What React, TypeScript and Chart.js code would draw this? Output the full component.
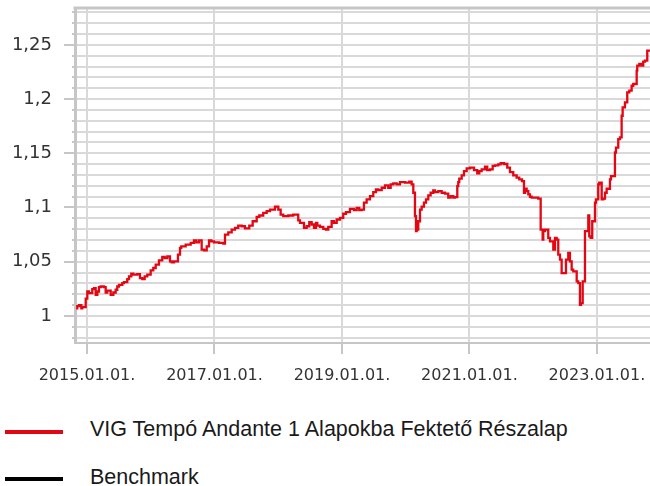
import React, { useEffect, useRef } from "react";
import { Chart, registerables } from "chart.js";

Chart.register(...registerables);

// Fund series: time as decimal years, values as unit price
const fundYears: number[] = [
  2014.848, 2014.875, 2014.911, 2014.926, 2014.98, 2015.005, 2015.031, 2015.083, 2015.11, 2015.136,
  2015.162, 2015.188, 2015.215, 2015.267, 2015.293, 2015.318, 2015.372, 2015.413, 2015.45, 2015.475,
  2015.502, 2015.554, 2015.58, 2015.632, 2015.659, 2015.695, 2015.726, 2015.789, 2015.831, 2015.867,
  2015.905, 2015.946, 2015.999, 2016.04, 2016.078, 2016.129, 2016.181, 2016.219, 2016.26, 2016.302,
  2016.329, 2016.365, 2016.427, 2016.459, 2016.479, 2016.548, 2016.627, 2016.678, 2016.715, 2016.757,
  2016.799, 2016.835, 2016.878, 2016.914, 2016.95, 2016.992, 2017.071, 2017.138, 2017.165, 2017.216,
  2017.27, 2017.322, 2017.373, 2017.427, 2017.478, 2017.546, 2017.599, 2017.662, 2017.703, 2017.765,
  2017.819, 2017.871, 2017.949, 2018.001, 2018.038, 2018.079, 2018.158, 2018.236, 2018.314, 2018.341,
  2018.404, 2018.446, 2018.487, 2018.525, 2018.561, 2018.592, 2018.613, 2018.655, 2018.707, 2018.749,
  2018.785, 2018.838, 2018.875, 2018.917, 2018.969, 2019.02, 2019.063, 2019.125, 2019.188, 2019.231,
  2019.271, 2019.309, 2019.345, 2019.387, 2019.439, 2019.491, 2019.533, 2019.569, 2019.623, 2019.675,
  2019.726, 2019.764, 2019.805, 2019.858, 2019.91, 2019.988, 2020.056, 2020.093, 2020.119, 2020.145,
  2020.161, 2020.172, 2020.197, 2020.224, 2020.25, 2020.286, 2020.318, 2020.354, 2020.391, 2020.432,
  2020.459, 2020.511, 2020.564, 2020.616, 2020.667, 2020.705, 2020.746, 2020.773, 2020.809, 2020.824,
  2020.84, 2020.878, 2020.914, 2020.956, 2021.008, 2021.071, 2021.122, 2021.154, 2021.191, 2021.243,
  2021.279, 2021.322, 2021.364, 2021.4, 2021.452, 2021.489, 2021.541, 2021.593, 2021.635, 2021.687,
  2021.74, 2021.781, 2021.824, 2021.855, 2021.871, 2021.897, 2021.923, 2021.949, 2021.976, 2022.027,
  2022.079, 2022.117, 2022.148, 2022.158, 2022.184, 2022.236, 2022.263, 2022.315, 2022.341, 2022.368,
  2022.393, 2022.42, 2022.446, 2022.482, 2022.514, 2022.55, 2022.576, 2022.603, 2022.628, 2022.682,
  2022.707, 2022.733, 2022.749, 2022.776, 2022.785, 2022.812, 2022.827, 2022.864, 2022.879, 2022.901,
  2022.926, 2022.942, 2022.969, 2022.984, 2023.02, 2023.036, 2023.074, 2023.099, 2023.126, 2023.152,
  2023.204, 2023.22, 2023.256, 2023.282, 2023.298, 2023.334, 2023.361, 2023.387, 2023.403, 2023.439,
  2023.475, 2023.507, 2023.544, 2023.569, 2023.623, 2023.632, 2023.664, 2023.701, 2023.726, 2023.753,
  2023.789, 2023.805, 2023.832,
];

const fundValues: number[] = [
  1.006, 1.009, 1.01, 1.007, 1.008, 1.016, 1.0225, 1.021, 1.0247, 1.0256,
  1.0194, 1.0225, 1.0266, 1.0271, 1.0266, 1.0216, 1.0234, 1.0194, 1.0216, 1.0241,
  1.0271, 1.0287, 1.0303, 1.0312, 1.034, 1.0364, 1.0389, 1.038, 1.0386, 1.0349,
  1.034, 1.0364, 1.038, 1.042, 1.0442, 1.0472, 1.0512, 1.0544, 1.0534, 1.0549,
  1.0503, 1.0494, 1.0503, 1.0565, 1.0627, 1.0642, 1.0657, 1.0673, 1.0697, 1.0679,
  1.0697, 1.0611, 1.0605, 1.0642, 1.0697, 1.0688, 1.0679, 1.0673, 1.0667, 1.075,
  1.0771, 1.0796, 1.0812, 1.0833, 1.0827, 1.0808, 1.0833, 1.0873, 1.0914, 1.0926,
  1.0951, 1.0966, 1.0981, 1.1007, 1.0981, 1.0935, 1.092, 1.0926, 1.0935, 1.0882,
  1.0858, 1.0812, 1.0827, 1.0864, 1.0843, 1.0812, 1.0858, 1.0833, 1.0821, 1.0803,
  1.0796, 1.0821, 1.0873, 1.0858, 1.0889, 1.0905, 1.0942, 1.0957, 1.0988, 1.0975,
  1.0997, 1.0975, 1.0981, 1.1044, 1.1074, 1.1105, 1.1142, 1.1167, 1.116, 1.1182,
  1.1204, 1.1182, 1.1213, 1.1222, 1.1213, 1.1234, 1.1229, 1.1238, 1.1213, 1.1136,
  1.092, 1.0781, 1.0796, 1.0873, 1.0981, 1.1007, 1.1044, 1.1074, 1.1111, 1.1136,
  1.1158, 1.1142, 1.1151, 1.1136, 1.1127, 1.109, 1.1105, 1.109, 1.1095, 1.1197,
  1.1234, 1.1266, 1.1296, 1.1336, 1.1361, 1.1368, 1.1345, 1.1315, 1.1336, 1.1352,
  1.1377, 1.1345, 1.1352, 1.1383, 1.1389, 1.1398, 1.1408, 1.1401, 1.1368, 1.1327,
  1.1296, 1.1275, 1.1259, 1.1244, 1.1136, 1.1173, 1.1151, 1.112, 1.1099, 1.109,
  1.109, 1.1081, 1.0796, 1.0704, 1.0781, 1.0796, 1.0719, 1.0688, 1.0611, 1.0719,
  1.0704, 1.0565, 1.0519, 1.0395, 1.0395, 1.0519, 1.0581, 1.0503, 1.0426, 1.041,
  1.0318, 1.0303, 1.0102, 1.0118, 1.0318, 1.0318, 1.0781, 1.0781, 1.0926, 1.0734,
  1.0719, 1.0873, 1.0873, 1.1044, 1.1074, 1.1213, 1.1229, 1.1074, 1.1081, 1.1136,
  1.1173, 1.1259, 1.129, 1.129, 1.1507, 1.1553, 1.163, 1.1646, 1.1846, 1.1923,
  1.197, 1.2062, 1.2077, 1.2123, 1.2139, 1.2262, 1.2308, 1.2324, 1.2308, 1.2346,
  1.2355, 1.2447, 1.2447,
];

const benchmarkValues: number[] = [];

const xTickYears: number[] = [2015, 2017, 2019, 2021, 2023];
const yTickHundredths: number[] = [
  98, 99, 100, 101, 102, 103, 104, 105, 106, 107, 108, 109, 110, 111, 112, 113, 114, 115, 116, 117,
  118, 119, 120, 121, 122, 123, 124, 125, 126, 127, 128,
];

const seriesNames: string[] = ["VIG Tempó Andante 1 Alapokba Fektető Részalap", "Benchmark"];
const seriesColors: string[] = ["#e30613", "#000000"];

const X_MIN = 2014.812;
const X_MAX = 2023.832;
const Y_MIN = 0.975;
const Y_MAX = 1.284;

const GRID = "#d9d9d9";
const AXIS = "#c6c6c6";

const tickMarks = {
  id: "tickMarks",
  afterDraw(chart: any) {
    const { ctx, chartArea, scales } = chart;
    ctx.save();
    ctx.strokeStyle = AXIS;
    ctx.beginPath();
    ctx.moveTo(chartArea.left - 1.5, chartArea.top);
    ctx.lineTo(chartArea.right, chartArea.top);
    ctx.lineWidth = 3;
    ctx.stroke();
    ctx.lineWidth = 2;
    const y = scales.y;
    y.ticks.forEach((t: any) => {
      const py = Math.round(y.getPixelForValue(t.value));
      const major = Math.round(t.value * 100) % 5 === 0;
      ctx.beginPath();
      ctx.moveTo(chartArea.left - (major ? 11 : 3), py);
      ctx.lineTo(chartArea.left, py);
      ctx.stroke();
    });
    const x = scales.x;
    x.ticks.forEach((t: any) => {
      const px = Math.round(x.getPixelForValue(t.value));
      ctx.beginPath();
      ctx.moveTo(px, chartArea.bottom);
      ctx.lineTo(px, chartArea.bottom + 11);
      ctx.stroke();
    });
    ctx.restore();
  },
};

function fmtY(v: number): string {
  const h = Math.round(v * 100);
  if (h % 5 !== 0) return "";
  return String(h / 100).replace(".", ",");
}

function zeroPadding(s: any) {
  s.paddingTop = 0;
  s.paddingBottom = 0;
  s.paddingLeft = 0;
  s.paddingRight = 0;
}

export default function App() {
  const ref = useRef<HTMLCanvasElement | null>(null);

  useEffect(() => {
    if (!ref.current) return;
    const data = fundYears.map((yr, i) => ({ x: yr, y: fundValues[i] }));
    const chart = new Chart(ref.current, {
      type: "line",
      data: {
        datasets: [
          {
            label: seriesNames[0],
            data,
            borderColor: seriesColors[0],
            backgroundColor: seriesColors[0],
            borderWidth: 2.3,
            pointRadius: 0,
            stepped: "after",
          },
          {
            label: seriesNames[1],
            data: benchmarkValues.map((v, i) => ({ x: fundYears[i], y: v })),
            borderColor: seriesColors[1],
            backgroundColor: seriesColors[1],
            borderWidth: 2,
            pointRadius: 0,
          },
        ],
      },
      options: {
        animation: false,
        responsive: false,
        devicePixelRatio: 1,
        layout: { padding: { top: 8, left: 0, right: 0, bottom: 0 } },
        plugins: { legend: { display: false }, tooltip: { enabled: false } },
        scales: {
          x: {
            type: "linear",
            min: X_MIN,
            max: X_MAX,
            afterBuildTicks: (s: any) => {
              s.ticks = xTickYears.map((v) => ({ value: v }));
            },
            afterFit: (s: any) => {
              s.height = 57;
              zeroPadding(s);
            },
            grid: { color: GRID, lineWidth: 2, drawTicks: false },
            border: { color: AXIS, width: 2 },
            ticks: {
              autoSkip: false,
              maxRotation: 0,
              padding: 23,
              color: "#333333",
              font: { family: "'DejaVu Sans', Verdana, sans-serif", size: 16 },
              callback: (v: any) => `${v}.01.01.`,
            },
          },
          y: {
            type: "linear",
            min: Y_MIN,
            max: Y_MAX,
            afterBuildTicks: (s: any) => {
              s.ticks = yTickHundredths.map((h) => ({ value: h / 100 }));
            },
            afterFit: (s: any) => {
              s.width = 75;
              zeroPadding(s);
            },
            grid: { color: GRID, lineWidth: 2, drawTicks: false },
            border: { color: AXIS, width: 3 },
            ticks: {
              autoSkip: false,
              padding: 23,
              color: "#333333",
              font: { family: "'DejaVu Sans', Verdana, sans-serif", size: 18 },
              callback: (v: any) => fmtY(Number(v)),
            },
          },
        },
      },
      plugins: [tickMarks],
    });
    return () => chart.destroy();
  }, []);

  const legendFont = "'Liberation Sans', Arial, sans-serif";
  return (
    <div style={{ position: "absolute", left: 0, top: 0, width: 650, height: 486, overflow: "hidden", background: "#fff" }}>
      <canvas ref={ref} width={650} height={400} style={{ position: "absolute", left: 0, top: 0, width: 650, height: 400 }} />
      {seriesNames.map((name, i) => (
        <React.Fragment key={name}>
          <div
            style={{
              position: "absolute",
              left: 5,
              top: 430 + i * 47,
              width: 58,
              height: 4,
              background: seriesColors[i],
            }}
          />
          <div
            style={{
              position: "absolute",
              left: 90,
              top: 417 + i * 48,
              fontFamily: legendFont,
              fontSize: 21.5,
              lineHeight: "24px",
              color: "#1a1a1a",
              whiteSpace: "nowrap",
            }}
          >
            {name}
          </div>
        </React.Fragment>
      ))}
    </div>
  );
}
